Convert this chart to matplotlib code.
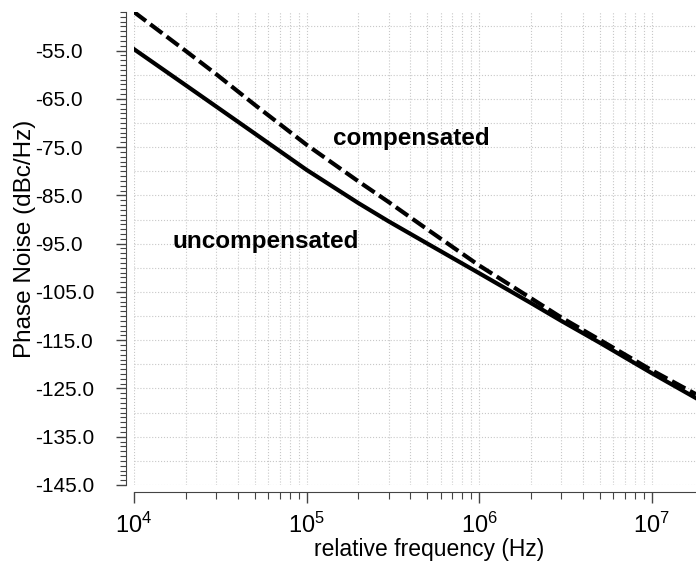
import matplotlib
matplotlib.use("Agg")
import matplotlib.pyplot as plt
import numpy as np
from matplotlib.ticker import MultipleLocator, FormatStrFormatter, LogLocator, NullFormatter

plt.rcParams['font.family'] = ['Liberation Sans', 'DejaVu Sans']
plt.rcParams['mathtext.fontset'] = 'custom'
plt.rcParams['mathtext.rm'] = 'Liberation Sans'

# offset frequency (Hz) and phase noise (dBc/Hz)
freq = [1e4, 2e4, 3e4, 5e4, 1e5, 2e5, 3e5, 5e5, 1e6, 2e6, 3e6, 5e6, 1e7, 1.81e7]
uncompensated = [-54.7, -62.2, -66.6, -72.15, -79.7, -86.6, -90.4, -94.95,
                 -101.1, -107.3, -111.0, -115.5, -121.8, -127.0]
compensated = [-47.0, -55.1, -59.9, -66.2, -74.5, -82.1, -86.4, -92.0,
               -99.5, -106.3, -110.3, -114.9, -121.2, -126.2]

fig = plt.figure(figsize=(6.96, 5.67), dpi=100)
ax = fig.add_axes([134 / 696, 1 - 485 / 567, 562 / 696, 473 / 567])

ax.semilogx(freq, uncompensated, color='black', lw=3.0, solid_joinstyle='round')
ax.semilogx(freq, compensated, color='black', lw=3.0, linestyle=(0, (3.6, 1.3)))

ax.text(1.42e5, -73.3, 'compensated', fontsize=17.5, fontweight='bold', va='center')
ax.text(1.67e4, -94.5, 'uncompensated', fontsize=17.5, fontweight='bold', va='center')

ax.set_xlim(1e4, 1.81e7)
ax.set_ylim(-145, -47)

ax.yaxis.set_major_formatter(FormatStrFormatter('%.1f'))
ax.yaxis.set_minor_locator(MultipleLocator(1))
ax.set_yticks(np.arange(-145, -50, 10))
ax.xaxis.set_major_locator(LogLocator(base=10))
ax.xaxis.set_minor_locator(LogLocator(base=10, subs=np.arange(2, 10)))
ax.xaxis.set_minor_formatter(NullFormatter())

# dotted grid
ax.grid(axis='x', which='both', color='#c8c8c8', linestyle=':', lw=0.8)
ax.grid(axis='y', which='major', color='#c8c8c8', linestyle=':', lw=0.8)
for yv in np.arange(-140, -47, 10):
    ax.axhline(yv, color='#c8c8c8', linestyle=':', lw=0.8, zorder=0.5)

for s in ['top', 'right']:
    ax.spines[s].set_visible(False)
ax.spines['left'].set_position(('outward', 6))
ax.spines['bottom'].set_position(('outward', 5))
ax.spines['left'].set_color('#444444')
ax.spines['bottom'].set_color('#444444')

ax.tick_params(axis='y', which='major', length=7, width=1, pad=58, labelsize=15, color='#444444')
ax.tick_params(axis='y', which='minor', length=4, width=0.8, color='#444444')
ax.tick_params(axis='x', which='major', length=8, width=1, pad=7, labelsize=17, color='#444444')
ax.tick_params(axis='x', which='minor', length=5, width=0.8, color='#444444')
for lab in ax.get_yticklabels():
    lab.set_horizontalalignment('left')

ax.set_xlabel('relative frequency (Hz)', fontsize=16.5)
ax.set_ylabel('Phase Noise (dBc/Hz)', fontsize=17.5)
ax.xaxis.set_label_coords(0.525, -0.113)
ax.yaxis.set_label_coords(-0.175, 0.52)

plt.savefig('out.png', dpi=100)
